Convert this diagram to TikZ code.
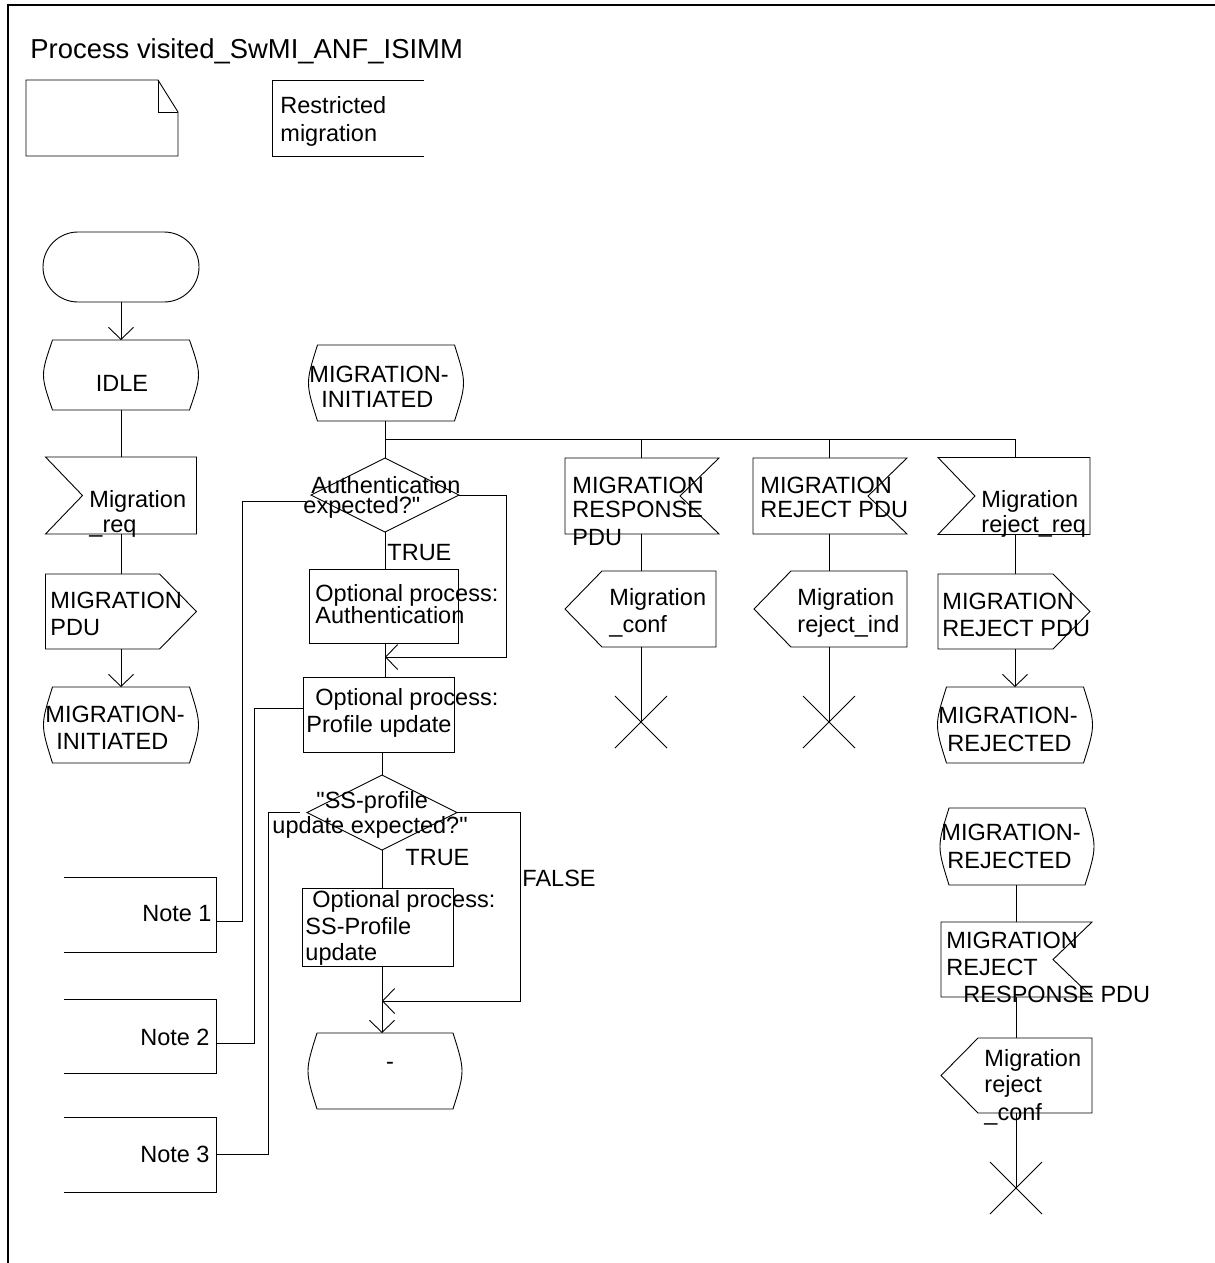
\documentclass[tikz,border=0pt]{standalone}
\usepackage{fontspec}
\newfontfamily\sdl{Liberation Sans}
\usetikzlibrary{calc,arrows.meta}
\newcommand\InputL[1]{\draw (#1.north west) -- (#1.north east) -- (#1.south east) -- (#1.south west) -- ($(#1.west)+(37,0)$) -- cycle;}
\newcommand\InputR[1]{\draw (#1.north west) -- (#1.north east) -- ($(#1.east)+(-39,0)$) -- (#1.south east) -- (#1.south west) -- cycle;}
\newcommand\OutputR[1]{\draw (#1.north west) -- ($(#1.north east)+(-37,0)$) -- (#1.east) -- ($(#1.south east)+(-37,0)$) -- (#1.south west) -- cycle;}
\newcommand\OutputL[1]{\draw ($(#1.north west)+(37,0)$) -- (#1.north east) -- (#1.south east) -- ($(#1.south west)+(37,0)$) -- (#1.west) -- cycle;}
\newcommand\StateSym[1]{\draw ($(#1.north west)+(9,0)$) -- ($(#1.north east)+(-9,0)$) .. controls ($(#1.east)+(3,0)$) .. ($(#1.south east)+(-9,0)$) -- ($(#1.south west)+(9,0)$) .. controls ($(#1.west)+(-3,0)$) .. ($(#1.north west)+(9,0)$) -- cycle;}
\newcommand\DecisionSym[1]{\draw (#1.north) -- (#1.east) -- (#1.south) -- (#1.west) -- cycle;}
\newcommand\NoteSym[1]{\draw (#1.north west) -- (#1.north east) -- (#1.south east) -- (#1.south west);}
\newcommand\StopSym[1]{\draw ($(#1)+(-26,-26)$) -- ($(#1)+(26,26)$) ($(#1)+(-26,26)$) -- ($(#1)+(26,-26)$);}
\begin{document}
\begin{tikzpicture}[x=1bp,y=-1bp,line width=0.9bp,
  box/.style={draw=none,rectangle,inner sep=0pt,outer sep=0pt},
  rbox/.style={draw,rectangle,inner sep=0pt,outer sep=0pt},
  txt/.style={font=\sdl\fontsize{23.5bp}{27bp}\selectfont,inner sep=0pt,anchor=base west},
  arr/.style={-{Straight Barb[length=12bp,width=25bp]}}]
\useasboundingbox (0,0) rectangle (1215,1263);
% frame
\coordinate (fa) at (1215,5); \coordinate (fb) at (8,5); \coordinate (fc) at (8,1263);
\draw[line width=1.2bp] (fa) -- (fb) -- (fc);
\node[txt,font=\sdl\fontsize{27.4bp}{30bp}\selectfont] (title) at (30,58) {Process visited\_SwMI\_ANF\_ISIMM};
% header symbols
\node[box,minimum width=152bp,minimum height=76bp] (dcl) at (102,118) {};
\draw (dcl.north west) -- ($(dcl.north east)+(-20,0)$) -- ($(dcl.north east)+(0,32)$) -- (dcl.south east) -- (dcl.south west) -- cycle;
\draw ($(dcl.north east)+(-20,0)$) -- ($(dcl.north east)+(-20,32)$) -- ($(dcl.north east)+(0,32)$);
\node[box,minimum width=152bp,minimum height=76bp] (rs) at (348,118) {};
\draw (rs.north east) -- (rs.north west) -- (rs.south west) -- (rs.south east);
\node[txt] (rs1) at (280,113) {Restricted};
\node[txt] (rs2) at (280,141) {migration};
% ---------- left column
\node[box,minimum width=156bp,minimum height=70bp,draw,rounded corners=35bp] (start) at (121,267) {};
\node[box,minimum width=155bp,minimum height=70bp] (idle) at (121,375) {}; \StateSym{idle}
\node[txt,anchor=base] (tidle) at (122,391) {IDLE};
\node[box,minimum width=151bp,minimum height=77bp] (in1) at (121,495.5) {}; \InputL{in1}
\node[txt] (tin1a) at (89,507) {Migration};
\node[txt] (tin1b) at (89,532) {\_req};
\node[box,minimum width=151bp,minimum height=75bp] (out1) at (121,611.5) {}; \OutputR{out1}
\node[txt] (tout1a) at (50,608) {MIGRATION};
\node[txt] (tout1b) at (50,635) {PDU};
\node[box,minimum width=155bp,minimum height=76bp] (st1) at (121,725) {}; \StateSym{st1}
\node[txt] (tst1a) at (45,722) {MIGRATION-};
\node[txt] (tst1b) at (56,749) {INITIATED};
\draw[arr] (start.south) -- (idle.north);
\draw (idle.south) -- (in1.north);
\draw (in1.south) -- (out1.north);
\draw[arr] (out1.south) -- (st1.north);
% ---------- column 2
\node[box,minimum width=155bp,minimum height=76bp] (st2) at (386,383) {}; \StateSym{st2}
\node[txt] (tst2a) at (309,382) {MIGRATION-};
\node[txt] (tst2b) at (321,407) {INITIATED};
\coordinate (b0) at (385,439);
\coordinate (b5) at (1015,439);
\draw (st2.south -| b0) -- (b0) -- (b5);
\node[box,minimum width=148bp,minimum height=74bp] (d1) at (385,495) {}; \DecisionSym{d1}
\node[txt] (td1a) at (311,493) {Authentication};
\node[txt] (td1b) at (303,513) {expected?"};
\draw (b0) -- (d1.north);
\node[txt] (true1) at (387,560) {TRUE};
\node[box,minimum width=149bp,minimum height=74bp,draw] (box1) at (383.5,606) {};
\node[txt] (tb1a) at (315,601) {Optional process:};
\node[txt] (tb1b) at (315,623) {Authentication};
\draw (d1.south) -- (d1.south |- box1.north);
\coordinate (j1) at (385,657);
\coordinate (r1) at (506,495);
\draw[arr] (d1.east) -- (r1) -- (r1 |- j1) -- (j1);
\node[box,minimum width=151bp,minimum height=75bp,draw] (box2) at (378.5,714.5) {};
\node[txt] (tb2a) at (315,705) {Optional process:};
\node[txt] (tb2b) at (306,732) {Profile update};
\draw (box1.south -| d1.south) -- (box2.north -| d1.south);
\node[box,minimum width=150bp,minimum height=75bp] (d2) at (382,812.5) {}; \DecisionSym{d2}
\node[txt] (td2a) at (316,808) {"SS-profile};
\node[txt] (td2b) at (272,833) {update expected?"};
\draw (box2.south -| d2.north) -- (d2.north);
\node[txt] (true2) at (405,865) {TRUE};
\node[txt] (false2) at (522,886) {FALSE};
\node[box,minimum width=151bp,minimum height=78bp,draw] (box3) at (377.5,927) {};
\node[txt] (tb3a) at (312,907) {Optional process:};
\node[txt] (tb3b) at (305,934) {SS-Profile};
\node[txt] (tb3c) at (305,960) {update};
\draw (d2.south) -- (d2.south |- box3.north);
\coordinate (j2) at (382,1001);
\coordinate (r2) at (520,812.5);
\draw[arr] (d2.east) -- (r2) -- (r2 |- j2) -- (j2);
\node[box,minimum width=154bp,minimum height=76bp] (st3) at (385,1071) {}; \StateSym{st3}
\node[txt,anchor=base] (tst3) at (390,1069) {-};
\draw[arr] (box3.south -| d2.south) -- (st3.north -| d2.south);
% ---------- column 3
\coordinate (b3) at (641,439);
\node[box,minimum width=154bp,minimum height=76bp] (in3) at (642,496) {}; \InputR{in3}
\node[txt] (tin3a) at (572,493) {MIGRATION};
\node[txt] (tin3b) at (572,517) {RESPONSE};
\node[txt] (tin3c) at (572,545) {PDU};
\node[box,minimum width=151bp,minimum height=76bp] (out3) at (640.5,609) {}; \OutputL{out3}
\node[txt] (tout3a) at (609,605) {Migration};
\node[txt] (tout3b) at (609,632) {\_conf};
\coordinate (x3) at (641,722); \StopSym{x3}
\draw (b3) -- (b3 |- in3.north);
\draw (b3 |- in3.south) -- (b3 |- out3.north);
\draw (b3 |- out3.south) -- (x3);
% ---------- column 4
\coordinate (b4) at (829,439);
\node[box,minimum width=154bp,minimum height=76bp] (in4) at (830,496) {}; \InputR{in4}
\node[txt] (tin4a) at (760,493) {MIGRATION};
\node[txt] (tin4b) at (760,517) {REJECT PDU};
\node[box,minimum width=153bp,minimum height=76bp] (out4) at (830.5,609) {}; \OutputL{out4}
\node[txt] (tout4a) at (797,605) {Migration};
\node[txt] (tout4b) at (797,632) {reject\_ind};
\coordinate (x4) at (829,722); \StopSym{x4}
\draw (b4) -- (b4 |- in4.north);
\draw (b4 |- in4.south) -- (b4 |- out4.north);
\draw (b4 |- out4.south) -- (x4);
% ---------- column 5
\node[box,minimum width=152bp,minimum height=77bp] (in5) at (1014,496) {}; \InputL{in5}
\node[txt] (tin5a) at (981,507) {Migration};
\node[txt] (tin5b) at (981,532) {reject\_req};
\node[box,minimum width=152bp,minimum height=75bp] (out5) at (1014,611.5) {}; \OutputR{out5}
\node[txt] (tout5a) at (942,609) {MIGRATION};
\node[txt] (tout5b) at (942,636) {REJECT PDU};
\node[box,minimum width=155bp,minimum height=76bp] (st5) at (1015,725) {}; \StateSym{st5}
\node[txt] (tst5a) at (938,723) {MIGRATION-};
\node[txt] (tst5b) at (947,751) {REJECTED};
\draw (b5) -- (b5 |- in5.north);
\draw (b5 |- in5.south) -- (b5 |- out5.north);
\draw[arr] (b5 |- out5.south) -- (b5 |- st5.north);
\node[box,minimum width=154bp,minimum height=77bp] (st6) at (1017,846.5) {}; \StateSym{st6}
\node[txt] (tst6a) at (941,840) {MIGRATION-};
\node[txt] (tst6b) at (947,868) {REJECTED};
\node[box,minimum width=151bp,minimum height=75bp] (in6) at (1016.5,959.5) {}; \InputR{in6}
\node[txt] (tin6a) at (946,948) {MIGRATION};
\node[txt] (tin6b) at (946,975) {REJECT};
\node[txt] (tin6c) at (963,1002) {RESPONSE PDU};
\node[box,minimum width=151bp,minimum height=75bp] (out6) at (1016.5,1075.5) {}; \OutputL{out6}
\node[txt] (tout6a) at (984,1066) {Migration};
\node[txt] (tout6b) at (984,1092) {reject};
\node[txt] (tout6c) at (984,1120) {\_conf};
\coordinate (x6) at (1016,1188); \StopSym{x6}
\draw (st6.south -| x6) -- (in6.north -| x6);
\draw (in6.south -| x6) -- (out6.north -| x6);
\draw (out6.south -| x6) -- (x6);
% ---------- notes
\node[box,minimum width=152bp,minimum height=75bp] (note1) at (140,914.5) {}; \NoteSym{note1}
\node[txt,anchor=base east] (tn1) at (212,921) {Note 1};
\node[box,minimum width=152bp,minimum height=74bp] (note2) at (140,1036) {}; \NoteSym{note2}
\node[txt,anchor=base east] (tn2) at (210,1045) {Note 2};
\node[box,minimum width=152bp,minimum height=75bp] (note3) at (140,1154.5) {}; \NoteSym{note3}
\node[txt,anchor=base east] (tn3) at (210,1162) {Note 3};
\draw ($(note1.east)+(0,6.5)$) -- ++(26,0) |- ($(d1.west)+(-5,6)$);
\draw ($(note2.east)+(0,7)$) -- ++(38,0) |- ($(box2.west)+(0,-6)$);
\draw (note3.east) -- ++(52,0) |- ($(d2.west)+(-7,0)$);
\end{tikzpicture}
\end{document}
